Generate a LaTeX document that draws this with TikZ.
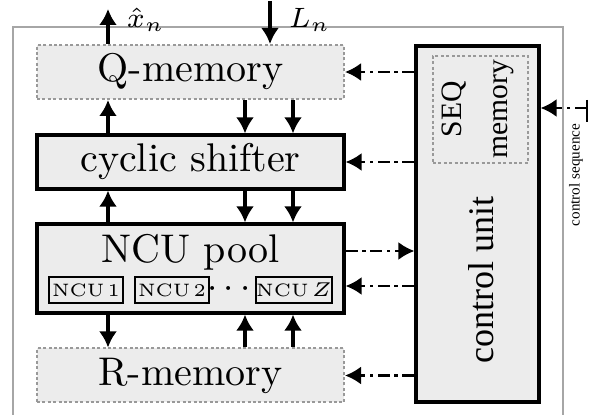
\documentclass[tikz,border=0pt]{standalone}
\usepackage{amsmath}
\usepackage{fontspec}
\newfontfamily\timesfont{Liberation Serif}
\usetikzlibrary{arrows.meta}

\begin{document}
\begin{tikzpicture}[x=0.25pt, y=-0.25pt, thick, >={Latex[length=4pt,width=4.5pt]},
  blk/.style = {draw, fill=gray!15, minimum width=76.75pt, minimum height=13.5pt, inner sep=0pt},
  mem/.style = {blk, draw=gray!80, dash pattern=on 0.75pt off 0.6pt, line width=0.5pt},
  ncu/.style = {draw, fill=gray!15, line width=0.4pt, minimum width=18.5pt, minimum height=6.5pt, inner sep=0pt, font=\fontsize{4.5}{5}\selectfont},
  ctl/.style = {line width=0.6pt, dash pattern=on 3pt off 1.2pt on 0.8pt off 1.2pt, ->}]
\useasboundingbox (0,0) rectangle (589,415);
\draw[gray!70, line width=0.4pt] (13,415) -- (13,27) -- (563,27) -- (563,415);
\node[mem] (qmem) at (190.5,72) {Q-memory};
\node[blk] (shift) at (190.5,162) {cyclic shifter};
\node[blk, minimum height=22.25pt] (pool) at (190.5,268.5) {};
\node[inner sep=1pt] (pooltxt) at (190.5,252) {NCU pool};
\node[ncu] (n1) at (86,290) {NCU\,1};
\node[ncu] (n2) at (172,290) {NCU\,2};
\node[ncu] (nz) at (294,290) {NCU\,$Z$};
\node[inner sep=0pt, font=\small] (dots) at (232,289) {$\cdots$};
\node[mem] (rmem) at (190.5,375.5) {R-memory};
\node[blk, minimum width=30.75pt, minimum height=89pt] (ctrl) at (477.5,224) {};
\node[mem, minimum width=23.75pt, minimum height=26.75pt] (seq) at (480.5,109.5) {};
\node[rotate=90, align=center, font=\timesfont\fontsize{7.4}{11.5}\selectfont] (seqtxt) at (478,109.5) {SEQ\\memory};
\node[rotate=90, font=\timesfont\fontsize{9}{11}\selectfont] (ctrltxt) at (481,280) {control unit};
\coordinate (c1) at (108,0);
\coordinate (c2) at (245,0);
\coordinate (c3) at (293,0);
\coordinate (xtop) at (108,9);
\coordinate (ltop) at (270,1);
\draw[->] (qmem.north -| xtop) -- (xtop);
\draw[->] (ltop) -- (qmem.north -| ltop);
\node[font=\scriptsize, anchor=west] (xhat) at (112,20) {$\hat{x}_n$};
\node[font=\scriptsize, anchor=west] (lab) at (274,20) {$L_n$};
\draw[->] (shift.north -| c1) -- (qmem.south -| c1);
\draw[->] (qmem.south -| c2) -- (shift.north -| c2);
\draw[->] (qmem.south -| c3) -- (shift.north -| c3);
\draw[->] (pool.north -| c1) -- (shift.south -| c1);
\draw[->] (shift.south -| c2) -- (pool.north -| c2);
\draw[->] (shift.south -| c3) -- (pool.north -| c3);
\draw[->] (pool.south -| c1) -- (rmem.north -| c1);
\draw[->] (rmem.north -| c2) -- (pool.south -| c2);
\draw[->] (rmem.north -| c3) -- (pool.south -| c3);
\coordinate (r1) at (0,251);
\coordinate (r2) at (0,286);
\draw[ctl] (ctrl.west |- qmem.east) -- (qmem.east);
\draw[ctl] (ctrl.west |- shift.east) -- (shift.east);
\draw[ctl] (pool.east |- r1) -- (ctrl.west |- r1);
\draw[ctl] (ctrl.west |- r2) -- (pool.east |- r2);
\draw[ctl] (ctrl.west |- rmem.east) -- (rmem.east);
\coordinate (cs) at (587,108);
\draw[ctl] (cs) -- (ctrl.east |- cs);
\draw[line width=0.6pt] ([yshift=2pt]cs) -- ([yshift=-3.5pt]cs);
\node[rotate=90, font=\timesfont\fontsize{3.8}{4}\selectfont] (cstxt) at (576,175) {control sequence};
\end{tikzpicture}
\end{document}
